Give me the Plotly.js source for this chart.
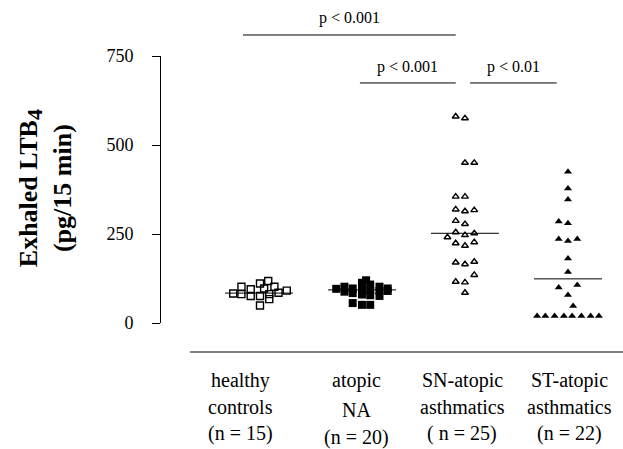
<!DOCTYPE html>
<html>
<head>
<meta charset="utf-8">
<script src="https://cdn.plot.ly/plotly-3.0.1.min.js"></script>
<style>html,body{margin:0;padding:0;background:#fff;}#chart{width:623px;height:449px;}</style>
</head>
<body>
<div id="chart"></div>
<script>
// ---- data ----
const groupNames = ['healthy controls', 'atopic NA', 'SN-atopic asthmatics', 'ST-atopic asthmatics'];
const labelLine1 = ['healthy', 'atopic', 'SN-atopic', 'ST-atopic'];
const labelLine2 = ['controls', 'NA', 'asthmatics', 'asthmatics'];
const labelLine3 = ['(n = 15)', '(n = 20)', '( n = 25)', '(n = 22)'];

const healthyValues = [83, 102, 81, 95, 76, 111, 76, 49, 118, 97, 81, 67, 102, 85, 91];
const healthyJitter = [-0.25, -0.17, -0.17, -0.08, -0.08, 0.01, 0.01, 0.01, 0.09, 0.05, 0.1, 0.1, 0.15, 0.19, 0.27];

const atopicValues = [96, 102, 88, 97, 84, 56, 113, 95, 80, 51, 120, 51, 108, 92, 78, 102, 90, 76, 97, 90];
const atopicJitter = [-0.25, -0.17, -0.17, -0.09, -0.09, -0.09, 0, 0, 0, 0, 0.04, 0.08, 0.08, 0.08, 0.08, 0.17, 0.17, 0.17, 0.25, 0.25];

const snValues = [580, 575, 450, 450, 355, 355, 319, 314, 317, 287, 278, 255, 247, 252, 241, 224, 217, 227, 170, 165, 172, 116, 114, 135, 85];
const snJitter = [-0.09, 0, 0, 0.09, -0.09, 0, -0.09, 0, 0.09, -0.09, 0, -0.09, 0, 0.09, -0.17, -0.09, 0, 0.09, -0.09, 0, 0.09, -0.09, 0, 0.09, 0];

const stValues = [425, 378, 347, 285, 280, 236, 230, 236, 181, 143, 100, 107, 79, 48, 20, 20, 20, 20, 20, 20, 20, 20];
const stJitter = [0, 0, 0, -0.09, 0, -0.09, 0, 0.09, 0, 0, -0.09, 0.09, 0, 0.05, -0.30, -0.22, -0.13, -0.04, 0.04, 0.13, 0.22, 0.30];

const medians = [84, 93, 252, 124];

const sigLabels = ['p < 0.001', 'p < 0.001', 'p < 0.01'];

const yTicks = [0, 250, 500, 750];

// ---- build ----
const font = 'Liberation Serif, Times New Roman, serif';
function xs(groupIndex, jitter) { return jitter.map(j => groupIndex + 1 + j); }

const traces = [
  {x: xs(0, healthyJitter), y: healthyValues, name: groupNames[0], type: 'scatter', mode: 'markers',
   marker: {symbol: 'square-open', size: 7, color: '#000', line: {width: 1.4, color: '#000'}}, cliponaxis: false},
  {x: xs(1, atopicJitter), y: atopicValues, name: groupNames[1], type: 'scatter', mode: 'markers',
   marker: {symbol: 'square', size: 8, color: '#000'}, cliponaxis: false},
  {x: xs(2, snJitter), y: snValues, name: groupNames[2], type: 'scatter', mode: 'markers',
   marker: {symbol: 'triangle-up-open', size: 6, color: '#000', line: {width: 1.4, color: '#000'}}, cliponaxis: false},
  {x: xs(3, stJitter), y: stValues, name: groupNames[3], type: 'scatter', mode: 'markers',
   marker: {symbol: 'triangle-up', size: 7, color: '#000'}, cliponaxis: false}
];

const shapes = [];
medians.forEach((m, i) => {
  shapes.push({type: 'line', xref: 'x', yref: 'y', x0: i + 1 - 0.33, x1: i + 1 + 0.33, y0: m, y1: m,
    line: {color: '#000', width: 1}});
});
// x baseline
shapes.push({type: 'line', xref: 'paper', yref: 'paper', x0: 0.063, x1: 1, y0: -0.1086, y1: -0.1086,
  line: {color: '#000', width: 1.2}});

const sigY = [1.0787, 0.899, 0.899];
const sigTextY = [1.144, 0.959, 0.959];
const sigX0 = [0.845, 1.98, 3.05];
const sigX1 = [2.91, 2.91, 3.89];
const annotations = [];
sigLabels.forEach((t, i) => {
  shapes.push({type: 'line', xref: 'x', yref: 'paper', x0: sigX0[i], x1: sigX1[i], y0: sigY[i], y1: sigY[i],
    line: {color: '#000', width: 1}});
  annotations.push({text: t, xref: 'x', yref: 'paper', x: (sigX0[i] + sigX1[i]) / 2, y: sigTextY[i],
    showarrow: false, xanchor: 'center', yanchor: 'middle', font: {family: font, size: 16, color: '#000'}});
});

const labelX = [0.825, 1.951, 2.971, 4.019];
const line1Y = -0.2135;
const line2Y = [-0.3146, -0.3258, -0.3146, -0.3146];
const line3Y = [-0.4157, -0.427, -0.4157, -0.4157];
groupNames.forEach((g, i) => {
  [[labelLine1[i], line1Y], [labelLine2[i], line2Y[i]], [labelLine3[i], line3Y[i]]].forEach(([t, y]) => {
    annotations.push({text: t, xref: 'x', yref: 'paper', x: labelX[i], y: y, showarrow: false,
      xanchor: 'center', yanchor: 'middle', font: {family: font, size: 20, color: '#000'}});
  });
});

// y-axis title
annotations.push({text: '<b>Exhaled LTB<sub><span style="font-size:22px">4</span></sub></b><br><b>(pg/15 min)</b>', xref: 'paper', yref: 'paper',
  x: -0.251, y: 0.505, textangle: -90, showarrow: false, xanchor: 'center', yanchor: 'middle',
  font: {family: font, size: 26, color: '#000'}});

const layout = {
  width: 623, height: 449,
  margin: {l: 161, r: 0, t: 56, b: 126, pad: 0},
  paper_bgcolor: '#fff', plot_bgcolor: '#fff',
  showlegend: false,
  xaxis: {range: [0.049, 4.534], visible: false, fixedrange: true},
  yaxis: {range: [0, 750], tickvals: yTicks, ticktext: yTicks.map(String), showline: true, linecolor: '#000',
    linewidth: 1, ticks: 'outside', ticklen: 8, tickcolor: '#000', tickwidth: 1, showgrid: false, zeroline: false,
    ticklabelstandoff: 15, tickfont: {family: font, size: 18, color: '#000'}, fixedrange: true},
  shapes: shapes,
  annotations: annotations
};

Plotly.newPlot('chart', traces, layout, {displayModeBar: false, staticPlot: true});
</script>
</body>
</html>
